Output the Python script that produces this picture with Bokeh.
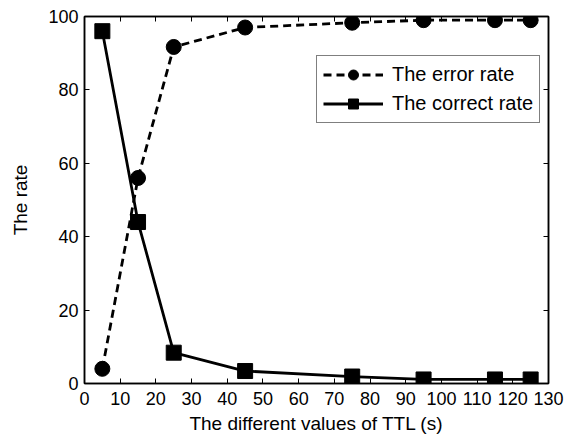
from bokeh.plotting import figure
from bokeh.models import LinearAxis, Legend, LegendItem, FixedTicker, Range1d, CustomJSTickFormatter
from bokeh.embed import file_html
from bokeh.resources import INLINE

ttl = [5, 15, 25, 45, 75, 95, 115, 125]
error_rate = [4, 56, 91.7, 97, 98.3, 99, 99, 99]
correct_rate = [96, 44, 8.4, 3.4, 1.9, 1.1, 1.1, 1.1]
x_ticks = list(range(0, 131, 10))
y_ticks = list(range(0, 101, 20))

FONT = "Liberation Sans"

p = figure(width=574, height=437, output_backend="svg", toolbar_location=None,
           x_range=Range1d(0, 130), y_range=Range1d(0, 100),
           min_border_left=84, min_border_right=26, min_border_top=16, min_border_bottom=54)
p.background_fill_color = "white"
p.border_fill_color = "white"
p.outline_line_color = "black"
p.outline_line_width = 1.5
p.grid.visible = False

xa = p.xaxis[0]
ya = p.yaxis[0]
xa.ticker = FixedTicker(ticks=x_ticks)
ya.ticker = FixedTicker(ticks=y_ticks)
for ax in (xa, ya):
    ax.major_tick_in = 5
    ax.major_tick_out = 0
    ax.minor_tick_line_color = None
    ax.axis_line_color = "black"
    ax.axis_line_width = 1.5
    ax.major_tick_line_color = "black"
    ax.major_tick_line_width = 1
    ax.major_label_text_font = FONT
    ax.major_label_text_font_size = "18px"
    ax.major_label_text_color = "black"
    ax.axis_label_text_font = FONT
    ax.axis_label_text_font_size = "19px"
    ax.axis_label_text_font_style = "normal"
    ax.axis_label_text_color = "black"
xa.axis_label = "The different values of TTL (s)"
ya.axis_label = "The rate"
xa.major_label_standoff = 8
xa.axis_label_standoff = 5
ya.major_label_standoff = 6
ya.axis_label_standoff = 14

blank = CustomJSTickFormatter(code="return ''")
top = LinearAxis(ticker=FixedTicker(ticks=x_ticks), formatter=blank,
                 major_tick_in=5, major_tick_out=0, minor_tick_line_color=None,
                 axis_line_color="black", axis_line_width=1.5, major_label_standoff=0)
right = LinearAxis(ticker=FixedTicker(ticks=y_ticks), formatter=blank,
                   major_tick_in=5, major_tick_out=0, minor_tick_line_color=None,
                   axis_line_color="black", axis_line_width=1.5, major_label_standoff=0)
p.add_layout(top, "above")
p.add_layout(right, "right")

l1 = p.line(ttl, error_rate, line_color="black", line_width=2.8, line_dash="8 5")
s1 = p.scatter(ttl, error_rate, marker="circle", size=15, fill_color="black", line_color="black")
l2 = p.line(ttl, correct_rate, line_color="black", line_width=2.8)
s2 = p.scatter(ttl, correct_rate, marker="square", size=15, fill_color="black", line_color="black")

legend = Legend(items=[LegendItem(label="The error rate", renderers=[l1, s1]),
                       LegendItem(label="The correct rate", renderers=[l2, s2])],
                location=(232, 260))
legend.label_text_font = FONT
legend.label_text_font_size = "20px"
legend.label_text_color = "black"
legend.glyph_width = 60
legend.glyph_height = 25
legend.label_height = 25
legend.spacing = 4
legend.padding = 6
legend.margin = 0
legend.label_standoff = 9
legend.border_line_color = "black"
legend.border_line_width = 1
legend.background_fill_alpha = 1
p.add_layout(legend, "center")

open("out.html", "w").write(file_html(p, INLINE))
